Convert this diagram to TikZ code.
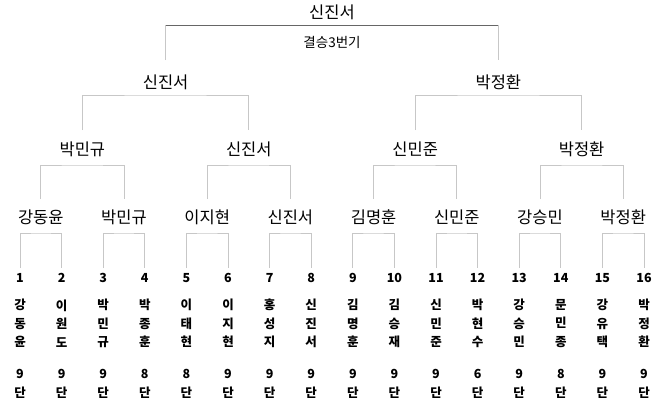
\documentclass[tikz,border=0pt]{standalone}
\usepackage{fontspec}
\setmainfont{Noto Sans CJK KR}
\begin{document}
\begin{tikzpicture}[x=1pt,y=-1pt,
    pname/.style={font=\fontsize{16.5}{18}\selectfont,inner sep=0pt},
    seat/.style={font=\fontsize{12.5}{18.5}\selectfont\bfseries,inner sep=0pt,align=center},
    bracket/.style={draw=black!22,line width=0.8pt},
    topline/.style={draw=black!60,line width=0.8pt}]
\useasboundingbox (0,0) rectangle (660,408);
% players
\foreach \i/\nm/\rk in {1/{강\\동\\윤}/9,2/{이\\원\\도}/9,3/{박\\민\\규}/9,4/{박\\종\\훈}/8,
    5/{이\\태\\현}/8,6/{이\\지\\현}/9,7/{홍\\성\\지}/9,8/{신\\진\\서}/9,
    9/{김\\명\\훈}/9,10/{김\\승\\재}/9,11/{신\\민\\준}/9,12/{박\\현\\수}/6,
    13/{강\\승\\민}/9,14/{문\\민\\종}/8,15/{강\\유\\택}/9,16/{박\\정\\환}/9}{
  \node[seat](n\i) at ({20+(\i-1)*41.6},278){\i};
  \node[seat](p\i) at ({20+(\i-1)*41.6},323.5){\nm};
  \node[seat](r\i) at ({20+(\i-1)*41.6},384){\rk\\단};
}
% round of 16 winners
\foreach \k/\nm in {1/강동윤,2/박민규,3/이지현,4/신진서,5/김명훈,6/신민준,7/강승민,8/박정환}{
  \pgfmathtruncatemacro\a{2*\k-1}
  \pgfmathtruncatemacro\b{2*\k}
  \node[pname](q\k) at ({20+(2*\k-1.5)*41.6},217){\nm};
  \draw[bracket]([yshift=10pt]n\a.center) |- ([yshift=-16pt]q\k.center) -| ([yshift=10pt]n\b.center);
}
% quarter final winners
\foreach \k/\nm in {1/박민규,2/신진서,3/신민준,4/박정환}{
  \pgfmathtruncatemacro\a{2*\k-1}
  \pgfmathtruncatemacro\b{2*\k}
  \node[pname](s\k) at ({20+(4*\k-2.5)*41.6},149){\nm};
  \draw[bracket]([yshift=18pt]q\a.center) |- ([yshift=-16pt]s\k.center) -| ([yshift=18pt]q\b.center);
}
% semi final winners
\foreach \k/\nm in {1/신진서,2/박정환}{
  \pgfmathtruncatemacro\a{2*\k-1}
  \pgfmathtruncatemacro\b{2*\k}
  \node[pname](f\k) at ({20+(8*\k-4.5)*41.6},82){\nm};
  \draw[bracket]([yshift=19pt]s\a.center) |- ([yshift=-13pt]f\k.center) -| ([yshift=19pt]s\b.center);
}
% final
\node[pname](champ) at ({20+7.5*41.6},12){신진서};
\coordinate (top) at ([yshift=-13pt]champ.center);
\draw[bracket]([yshift=22pt]f1.center) |- (top) -| ([yshift=22pt]f2.center);
\draw[topline](f1 |- top) -- (f2 |- top);
\node[inner sep=0pt,font=\fontsize{13.5}{14}\selectfont](bo3) at ([yshift=-30pt]champ.center){결승3번기};
\end{tikzpicture}
\end{document}
